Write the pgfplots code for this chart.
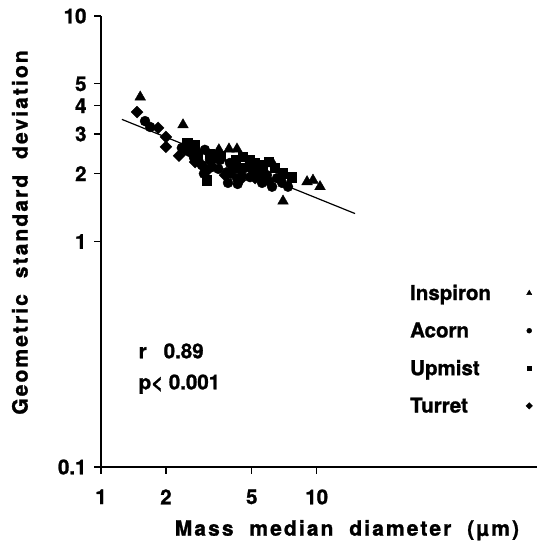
\documentclass[border=0pt]{standalone}
\usepackage{fontspec}
\setmainfont{TeX Gyre Heros}[BoldFeatures={FakeBold=1.2}]
\newfontfamily\labfont{TeX Gyre Heros}[LetterSpace=10, BoldFeatures={FakeBold=1.2}]
\usepackage{pgfplots}
\pgfplotsset{compat=1.18}
\newcommand\ff{\fontsize{20.5bp}{24bp}\selectfont\bfseries}
\newcommand\lf{\labfont\fontsize{21bp}{24bp}\selectfont\bfseries}

\pgfplotstableread{
x y
1.52 4.37
2.40 3.29
3.52 2.55
3.92 2.57
4.27 2.57
6.27 2.21
6.98 1.51
9.02 1.84
9.61 1.87
10.36 1.75
}\inspiron

\pgfplotstableread{
x y
1.60 3.42
1.69 3.22
2.37 2.60
2.59 2.49
2.82 2.30
2.94 2.18
3.27 2.14
3.84 2.03
3.88 1.82
4.27 1.91
4.65 2.12
4.91 1.93
5.29 2.01
5.58 1.82
5.88 1.97
6.21 1.75
6.55 1.91
6.91 1.82
7.36 1.75
3.96 2.23
3.56 2.30
3.03 2.55
3.20 2.30
3.50 2.10
4.00 2.00
4.50 1.95
5.00 2.10
5.50 2.00
6.00 1.85
2.70 2.35
3.00 2.00
4.30 1.80
}\acorn

\pgfplotstableread{
x y
2.51 2.73
2.79 2.42
3.10 1.87
4.41 2.12
4.55 2.37
5.18 2.23
5.64 2.18
6.98 2.01
7.68 1.93
6.41 2.12
4.91 2.30
3.38 2.35
2.73 2.68
4.09 2.18
3.20 2.45
3.60 2.40
4.20 2.30
5.40 2.05
6.00 2.25
5.80 1.90
2.60 2.55
}\upmist

\pgfplotstableread{
x y
1.47 3.75
1.84 3.19
2.00 2.91
2.00 2.63
2.45 2.55
2.73 2.25
3.13 2.08
3.76 1.97
4.41 1.87
5.18 1.91
2.30 2.40
2.90 2.20
}\turret

\begin{document}
\begin{tikzpicture}
\useasboundingbox (-101bp,-78bp) rectangle (436bp,467bp);
\begin{axis}[
  at={(0,0)}, anchor=south west,
  scale only axis, width=436bp, height=451bp,
  xmode=log, ymode=log,
  xmin=1, xmax=105, ymin=0.1, ymax=10,
  axis lines=left,
  axis line style={-, line width=1.8bp},
  xtick={1,2,5,10}, xticklabels={1,2,5,10},
  ytick={0.1,1,2,3,4,5,10}, yticklabels={0.1,1,2,3,4,5,10},
  xminorticks=false, yminorticks=false,
  tick align=outside, major tick length=7bp,
  tick style={line width=1.2bp, black},
  ticklabel style={font=\ff},
  /pgf/number format/assume math mode=true,
  xticklabel style={yshift=-12bp},
  yticklabel style={xshift=-4bp},
  xlabel={Mass\ \ median\ \ diameter\ \ (µm)},
  xlabel style={font=\lf, at={(axis description cs:0.564,-0.14)}, anchor=center},
  ylabel={Geometric\ \ standard\ \ deviation},
  ylabel style={font=\lf, at={(axis description cs:-0.186,0.52)}, anchor=center},
  legend plot pos=right,
  legend cell align=left,
  legend style={at={(axis description cs:0.704,0.409)}, anchor=north west,
    draw=none, fill=none, inner sep=0pt, row sep=17bp, column sep=33bp,
    font=\ff},
  mark options={fill=black, draw=black},
]
\addlegendimage{only marks, mark=triangle*, mark size=3, mark options={fill=black}}
\addlegendentry{Inspiron}
\addlegendimage{only marks, mark=*, mark size=2.5, mark options={fill=black}}
\addlegendentry{Acorn}
\addlegendimage{only marks, mark=square*, mark size=2.3, mark options={fill=black}}
\addlegendentry{Upmist}
\addlegendimage{only marks, mark=square*, mark size=2.3, mark options={fill=black, rotate=45}}
\addlegendentry{Turret}

\addplot[black, line width=1.2bp, no marks, forget plot] coordinates {(1.25,3.48) (15.06,1.33)};
\addplot[only marks, mark=*, mark size=5, black, mark options={fill=black}, forget plot] table {\acorn};
\addplot[only marks, mark=square*, mark size=4.6, black, mark options={fill=black}, forget plot] table {\upmist};
\addplot[only marks, mark=square*, mark size=4.2, black, mark options={fill=black, rotate=45}, forget plot] table {\turret};
\addplot[only marks, mark=triangle*, mark size=6.2, black, mark options={fill=black}, forget plot] table {\inspiron};

\node[anchor=west, font=\ff] at (axis cs:1.44,0.327) {r\ \ \ 0.89};
\node[anchor=west, font=\ff] at (axis cs:1.44,0.233) {p<\ 0.001};
\end{axis}
\end{tikzpicture}
\end{document}
